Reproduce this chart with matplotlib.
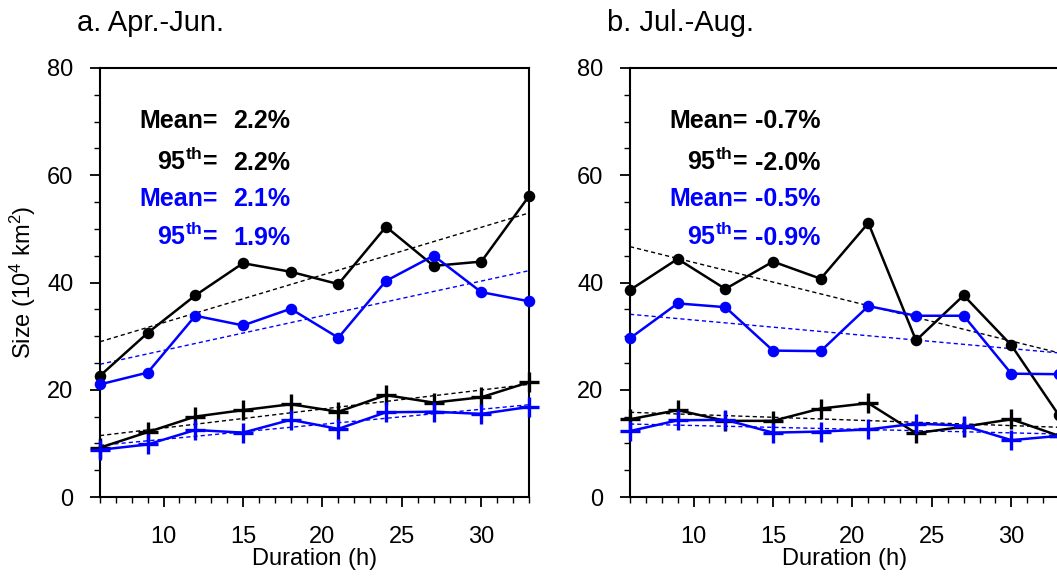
import numpy as np
import matplotlib
matplotlib.use("Agg")
import matplotlib.pyplot as plt
from matplotlib.ticker import MultipleLocator

plt.rcParams['font.family'] = ['Liberation Sans', 'DejaVu Sans']
plt.rcParams['mathtext.fontset'] = 'custom'
plt.rcParams['mathtext.rm'] = 'Liberation Sans'
plt.rcParams['mathtext.it'] = 'Liberation Sans'
plt.rcParams['mathtext.bf'] = 'Liberation Sans:bold'

duration = [6, 9, 12, 15, 18, 21, 24, 27, 30, 33]

# Panel a: Apr.-Jun.
a_mean_black = [22.6, 30.6, 37.6, 43.6, 42.0, 39.7, 50.4, 43.1, 43.9, 56.1]
a_mean_blue = [21.0, 23.2, 33.8, 32.0, 35.1, 29.7, 40.3, 45.0, 38.2, 36.5]
a_p95_black = [9.2, 12.1, 15.0, 16.2, 17.3, 15.9, 19.0, 17.6, 18.6, 21.4]
a_p95_blue = [8.8, 9.8, 12.5, 12.0, 14.4, 12.7, 15.8, 15.9, 15.5, 16.8]

# Panel b: Jul.-Aug.
b_mean_black = [38.6, 44.4, 38.8, 43.9, 40.7, 51.1, 29.2, 37.6, 28.3, 15.2]
b_mean_blue = [29.6, 36.1, 35.4, 27.3, 27.2, 35.6, 33.8, 33.8, 23.0, 22.9]
b_p95_black = [14.5, 16.2, 14.2, 14.2, 16.5, 17.5, 11.9, 13.1, 14.5, 11.4]
b_p95_blue = [12.3, 14.3, 14.4, 12.0, 12.2, 12.6, 13.7, 13.3, 10.6, 11.4]

titles = ["a. Apr.-Jun.", "b. Jul.-Aug."]
stat_labels = ["Mean=", "95$^{\\mathbf{th}}$=", "Mean=", "95$^{\\mathbf{th}}$="]
a_stats = ["2.2%", "2.2%", "2.1%", "1.9%"]
b_stats = ["-0.7%", "-2.0%", "-0.5%", "-0.9%"]
stat_colors = ["black", "black", "#0000ff", "#0000ff"]

W, H = 1057, 578
fig = plt.figure(figsize=(W / 100, H / 100), dpi=100)

ax_w = 429 / W
ax_h = 429 / H
bottom = (H - 497) / H
lefts = [100 / W, 630 / W]

panels = [
    (a_mean_black, a_mean_blue, a_p95_black, a_p95_blue, a_stats),
    (b_mean_black, b_mean_blue, b_p95_black, b_p95_blue, b_stats),
]

x = np.array(duration, dtype=float)
BLUE = "#0000ff"

for i, (mb, mbl, pb, pbl, stats) in enumerate(panels):
    ax = fig.add_axes([lefts[i], bottom, ax_w, ax_h])
    series = [(mb, "black", "o"), (mbl, BLUE, "o"), (pb, "black", "+"), (pbl, BLUE, "+")]
    for ys, col, mk in series:
        ys = np.array(ys)
        if mk == "o":
            ax.plot(x, ys, color=col, lw=1.8, marker="o", ms=7.3, mec=col, mfc=col,
                    zorder=3, clip_on=False)
        else:
            ax.plot(x, ys, color=col, lw=1.8, marker="+", ms=14, mew=2.4,
                    zorder=3, clip_on=False)
        coef = np.polyfit(x, ys, 1)
        xe = np.array([x[0], x[-1]])
        ax.plot(xe, np.polyval(coef, xe), color=col, lw=1.0, ls=(0, (3, 2.2)), zorder=2)

    ax.set_xlim(6, 33)
    ax.set_ylim(0, 80)
    ax.xaxis.set_major_locator(MultipleLocator(5))
    ax.xaxis.set_minor_locator(MultipleLocator(1))
    ax.yaxis.set_major_locator(MultipleLocator(20))
    ax.yaxis.set_minor_locator(MultipleLocator(5))
    ax.tick_params(which="major", direction="out", length=7.5, width=1.3,
                   labelsize=17, top=False, right=False)
    ax.tick_params(which="minor", direction="out", length=4, width=1.0, top=False, right=False)
    ax.tick_params(axis="y", which="major", pad=11.5)
    ax.tick_params(axis="x", which="major", pad=13.5)
    for sp in ax.spines.values():
        sp.set_linewidth(1.5)
    ax.set_xlabel("Duration (h)", fontsize=17, labelpad=0)
    if i == 0:
        ax.set_ylabel("Size (10$^4$ km$^2$)", fontsize=17, labelpad=7)

    ax.text(-23 / 429, 1 + 37 / 429, titles[i], transform=ax.transAxes,
            fontsize=21, ha="left", va="baseline")

    ybase = [0.860, 0.762, 0.678, 0.587]
    for lab, val, col, yb in zip(stat_labels, stats, stat_colors, ybase):
        ax.text(0.275, yb, lab, transform=ax.transAxes, fontsize=18, fontweight="bold",
                color=col, ha="right", va="baseline")
        ax.text(0.443, yb, val, transform=ax.transAxes, fontsize=18, fontweight="bold",
                color=col, ha="right", va="baseline")

fig.savefig("out.png", dpi=100)
